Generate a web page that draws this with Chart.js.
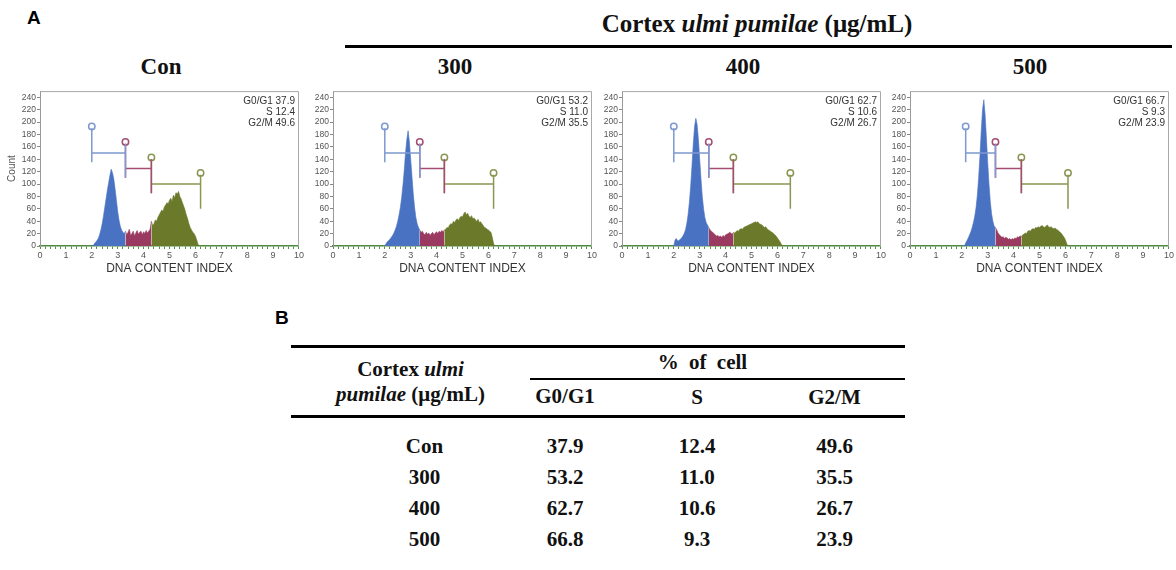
<!DOCTYPE html>
<html>
<head>
<meta charset="utf-8">
<script src="https://cdn.jsdelivr.net/npm/chart.js@4.4.1/dist/chart.umd.min.js"></script>
<style>
  body { margin: 0; width: 1176px; height: 570px; background: #fff; position: relative; overflow: hidden; }
  .abs { position: absolute; white-space: nowrap; }
  .serif { font-family: "Liberation Serif", "Times New Roman", serif; font-weight: bold; color: #111; }
  .letter { font-family: "Liberation Sans", Arial, sans-serif; font-weight: bold; font-size: 19px; color: #000; }
  canvas { position: absolute; }
  table { position: absolute; left: 291px; top: 345px; width: 614px; border-collapse: collapse;
    font-family: "Liberation Serif", "Times New Roman", serif; font-weight: bold; font-size: 21px; color: #111; }
  th, td { padding: 0; text-align: center; font-weight: bold; }
  .top th { border-top: 3px solid #000; }
  .hb { border-bottom: 3px solid #000; }
</style>
</head>
<body>
<div class="abs letter" style="left:27px;top:7px;">A</div>
<div class="abs serif" style="left:757px;top:10px;font-size:25px;transform:translateX(-50%);">Cortex <i>ulmi pumilae</i> (μg/mL)</div>
<div class="abs" style="left:345px;top:45px;width:827px;height:3px;background:#000;"></div>
<div class="abs serif" style="left:161px;top:54px;font-size:23px;transform:translateX(-50%);">Con</div>
<div class="abs serif" style="left:455px;top:54px;font-size:23px;transform:translateX(-50%);">300</div>
<div class="abs serif" style="left:743px;top:54px;font-size:23px;transform:translateX(-50%);">400</div>
<div class="abs serif" style="left:1030px;top:54px;font-size:23px;transform:translateX(-50%);">500</div>

<canvas id="c1" width="305" height="195" style="left:0px;top:85px;"></canvas>
<canvas id="c2" width="305" height="195" style="left:293px;top:85px;"></canvas>
<canvas id="c3" width="305" height="195" style="left:582px;top:85px;"></canvas>
<canvas id="c4" width="305" height="195" style="left:870px;top:85px;"></canvas>

<div class="abs letter" style="left:275px;top:307px;">B</div>
<table id="tbl">
  <tr class="top" style="height:32px;">
    <th rowspan="2" class="hb" style="width:179px;line-height:25px;padding-left:30px;">Cortex <i>ulmi</i><br><i>pumilae</i> (μg/mL)</th>
    <th colspan="3"><div style="word-spacing:5px;">% of cell</div></th>
  </tr>
  <tr style="height:38px;">
    <th class="hb" style="width:130px;position:relative;"><div style="position:absolute;left:30px;right:0;top:-1px;height:2px;background:#000;"></div>G0/G1</th>
    <th class="hb" style="width:134px;border-top:2px solid #000;">S</th>
    <th class="hb" style="width:141px;border-top:2px solid #000;">G2/M</th>
  </tr>
  <tbody id="rows"></tbody>
</table>

<script>
// DNA content histograms, bins start at 2.00 with a 0.05 step
var binStart = 2.0;
var binStep = 0.05;

var panels = ["Con", "300", "400", "500"];

var countsCon = [0,0,4,6,9,12,18,26,36,48,62,76,90,102,114,124,118,108,92,74,56,42,32,26,22,20,24,
  18,22,27,17,20,24,16,21,25,19,22,24,18,23,20,25,21,24,27,40,
  33,36,42,40,46,50,54,58,56,63,66,70,68,74,77,72,82,78,86,84,88,80,76,70,64,58,50,44,36,30,26,22,20,16,10,3,0];

var counts300 = [0,4,7,9,11,14,17,21,26,32,40,50,62,78,98,122,150,172,186,168,140,112,84,62,46,36,30,26,
  22,24,20,18,22,19,21,17,20,22,18,21,23,20,24,22,25,23,26,
  27,30,29,34,36,35,40,38,42,44,41,46,48,47,52,55,50,53,48,46,49,44,45,42,40,43,38,39,36,33,30,29,27,26,24,22,14,4,0];

var counts400 = [0,10,12,8,9,11,13,16,20,26,36,50,70,96,128,164,192,206,196,172,140,108,80,60,46,38,34,30,
  26,24,22,20,18,16,17,15,16,14,17,15,18,19,20,22,21,19,22,
  21,23,25,24,27,28,27,30,31,32,33,34,35,36,37,38,39,38,39,36,35,34,32,30,31,28,26,25,23,22,20,18,16,13,10,7,3,0];

var counts500 = [0,0,0,5,9,13,18,23,30,38,48,62,82,110,145,185,220,236,212,175,135,100,72,52,40,32,30,
  26,21,18,16,14,15,12,14,13,11,12,10,12,11,13,12,15,14,16,15,
  18,19,21,20,24,25,24,27,28,27,30,29,31,30,32,33,31,30,32,34,31,30,31,29,28,29,27,26,24,22,20,17,14,10,4,0];

// marker gates: G0/G1 start, S start, G2/M start, G2/M end
var gatesCon = [2.0, 3.3, 4.3, 6.2];
var gates300 = [2.0, 3.35, 4.3, 6.2];
var gates400 = [2.0, 3.35, 4.3, 6.5];
var gates500 = [2.15, 3.3, 4.3, 6.1];

var gateLevels = [150, 125, 100];

var yTickValues = [0, 20, 40, 60, 80, 100, 120, 140, 160, 180, 200, 220, 240];

var phaseNames = ["G0/G1", "S", "G2/M"];
var pctG0G1 = [37.9, 53.2, 62.7, 66.7];
var pctS = [12.4, 11.0, 10.6, 9.3];
var pctG2M = [49.6, 35.5, 26.7, 23.9];

// table B
var tableRows = ["Con", "300", "400", "500"];
var tblG0G1 = ["37.9", "53.2", "62.7", "66.8"];
var tblS = ["12.4", "11.0", "10.6", "9.3"];
var tblG2M = ["49.6", "35.5", "26.7", "23.9"];

var fillColors = ["#4a72c2", "#9a3a60", "#6b7a2a"];
var gateColors = ["#7d99d0", "#a44c72", "#8a9652"];

var boxPlugin = {
  id: "box",
  afterDraw: function(chart, args, opts) {
    var ctx = chart.ctx, a = chart.chartArea;
    ctx.save();
    ctx.strokeStyle = "#a8a8a8";
    ctx.lineWidth = 1;
    ctx.beginPath();
    ctx.moveTo(a.left, a.top + 0.5);
    ctx.lineTo(a.right - 0.5, a.top + 0.5);
    ctx.lineTo(a.right - 0.5, a.bottom);
    ctx.stroke();
    ctx.font = "10px 'Liberation Sans', Arial";
    ctx.fillStyle = "#333";
    ctx.textAlign = "right";
    ctx.textBaseline = "middle";
    opts.lines.forEach(function(t, i) {
      ctx.fillText(t, a.right - 4, a.top + 10 + i * 11);
    });
    ctx.restore();
  }
};

function makePanel(id, counts, gates, idx, showCount) {
  var pts = counts.map(function(c, i) {
    return {x: Math.round((binStart + i * binStep) * 100) / 100, y: c};
  });
  var phase = function(lo, hi) {
    return pts.filter(function(p) { return p.x >= lo - 1e-6 && p.x <= hi + 1e-6; });
  };
  var ranges = [[0, gates[1]], [gates[1], gates[2]], [gates[2], 10]];

  var datasets = [];
  // gate markers
  for (var g = 0; g < 3; g++) {
    var x1 = gates[g], x2 = gates[g + 1], lv = gateLevels[g];
    datasets.push({
      data: [{x: x1, y: lv + 40}, {x: x1, y: lv - 15}, {x: x1, y: null},
             {x: x1, y: lv}, {x: x2, y: lv}, {x: x2, y: null},
             {x: x2, y: lv - 40}, {x: x2, y: lv + 15}],
      borderColor: gateColors[g], borderWidth: 1.5, pointRadius: 0, spanGaps: false, fill: false
    });
  }
  for (var p = 0; p < 3; p++) {
    datasets.push({
      data: phase(ranges[p][0], ranges[p][1]),
      borderColor: fillColors[p], backgroundColor: fillColors[p],
      borderWidth: 0.6, pointRadius: 0, fill: "origin", tension: 0
    });
  }
  var circles = [];
  for (var g2 = 0; g2 < 4; g2++) {
    var lvl = g2 < 3 ? gateLevels[g2] + 43 : gateLevels[2] + 18;
    circles.push({x: gates[g2], y: lvl});
  }
  datasets.push({
    data: circles, showLine: false, pointRadius: 3.2, pointBorderWidth: 1.5,
    pointBackgroundColor: "#fff",
    pointBorderColor: [gateColors[0], gateColors[1], gateColors[2], gateColors[2]]
  });

  new Chart(document.getElementById(id), {
    type: "line",
    data: {datasets: datasets},
    options: {
      responsive: false,
      animation: false,
      events: [],
      layout: {padding: {top: 5, right: 4, left: 0, bottom: 0}},
      plugins: {
        legend: {display: false},
        tooltip: {enabled: false},
        box: {lines: [phaseNames[0] + " " + pctG0G1[idx].toFixed(1), phaseNames[1] + " " + pctS[idx].toFixed(1), phaseNames[2] + " " + pctG2M[idx].toFixed(1)]}
      },
      scales: {
        x: {
          type: "linear", min: 0, max: 10,
          afterFit: function(s) { s.height = 34; },
          ticks: {
            stepSize: 0.2, autoSkip: false, maxRotation: 0, padding: 1,
            color: "#555", font: {family: "'Liberation Sans', Arial", size: 9},
            callback: function(v) { return Math.abs(v - Math.round(v)) < 1e-6 ? Math.round(v) : ""; }
          },
          grid: {drawOnChartArea: false, tickLength: 3, color: "#5a8a4a"},
          border: {color: "#4f8a40", width: 1.5},
          title: {display: true, text: "DNA CONTENT INDEX", color: "#333", padding: {top: 0},
            font: {family: "'Liberation Sans', Arial", size: 12}}
        },
        y: {
          min: 0, max: 250,
          afterFit: function(s) { s.width = 40; },
          afterBuildTicks: function(s) { s.ticks = yTickValues.map(function(v) { return {value: v}; }); },
          ticks: {autoSkip: false, padding: 1, color: "#555", font: {family: "'Liberation Sans', Arial", size: 8.5}},
          grid: {drawOnChartArea: false, tickLength: 3, color: "#888"},
          border: {color: "#999"},
          title: {display: showCount, text: "Count", color: "#555", padding: {top: 6, bottom: 0},
            font: {family: "'Liberation Sans', Arial", size: 10}}
        }
      }
    },
    plugins: [boxPlugin]
  });
}

makePanel("c1", countsCon, gatesCon, 0, true);
makePanel("c2", counts300, gates300, 1, false);
makePanel("c3", counts400, gates400, 2, false);
makePanel("c4", counts500, gates500, 3, false);

// table rows
var tb = document.getElementById("rows");
tableRows.forEach(function(r, i) {
  var tr = document.createElement("tr");
  tr.style.height = i === 0 ? "45px" : "31px";
  if (i === 0) tr.style.verticalAlign = "bottom";
  [r, tblG0G1[i], tblS[i], tblG2M[i]].forEach(function(v, j) {
    var td = document.createElement("td");
    td.textContent = v;
    if (j === 0) td.style.paddingLeft = "58px";
    if (i === 0) td.style.paddingBottom = "3px";
    tr.appendChild(td);
  });
  tb.appendChild(tr);
});
</script>
</body>
</html>
